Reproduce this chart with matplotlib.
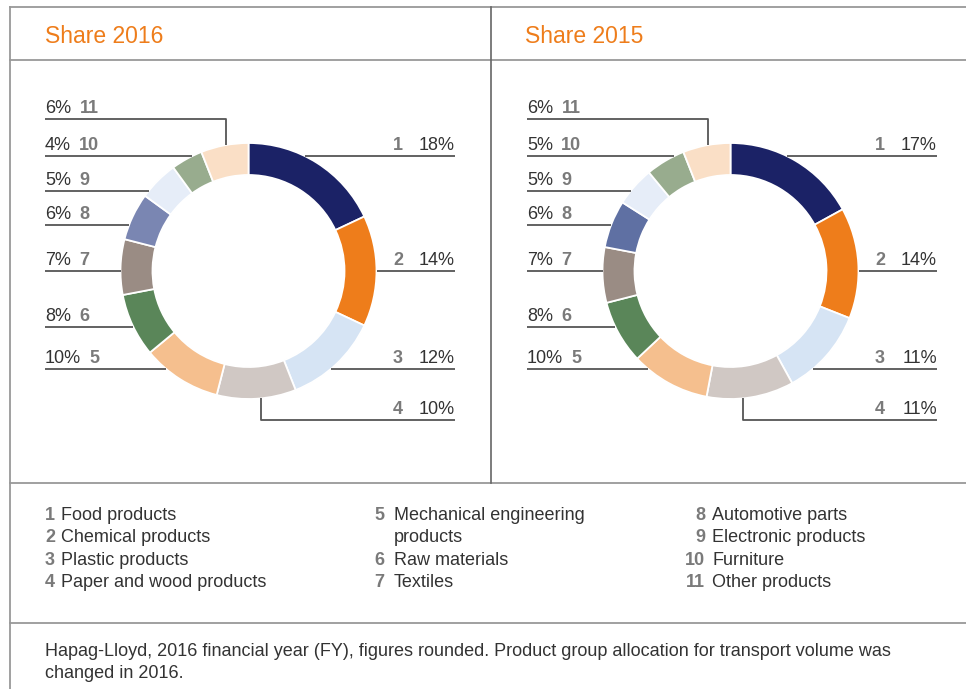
import matplotlib.pyplot as plt
import numpy as np

plt.rcParams['font.family'] = ['Liberation Sans', 'DejaVu Sans']

# data
categories = ["Food products", "Chemical products", "Plastic products",
              "Paper and wood products", "Mechanical engineering\nproducts",
              "Raw materials", "Textiles", "Automotive parts",
              "Electronic products", "Furniture", "Other products"]
share_2016 = [18, 14, 12, 10, 10, 8, 7, 6, 5, 4, 6]
share_2015 = [17, 14, 11, 11, 10, 8, 7, 6, 5, 5, 6]
titles = ["Share 2016", "Share 2015"]
footnote = ("Hapag-Lloyd, 2016 financial year (FY), figures rounded. Product group allocation for transport volume was\n"
            "changed in 2016.")

colors_2016 = ["#1b2266", "#ee7d1b", "#d6e4f4", "#d0c8c4", "#f5bf8e", "#5a8659",
               "#9a8c84", "#7a86b2", "#e6edf8", "#98ac8e", "#fadfc6"]
colors_2015 = ["#1b2266", "#ee7d1b", "#d6e4f4", "#d0c8c4", "#f5bf8e", "#5a8659",
               "#9a8c84", "#5f70a3", "#e6edf8", "#98ac8e", "#fadfc6"]

# layout (pixels)
W, H = 966, 689
R, RING = 128, 32
panels = [dict(cx=248.5, cy=271, left=45, right=455, vals=share_2016, cols=colors_2016, tx=45),
          dict(cx=730.5, cy=271, left=527, right=937, vals=share_2015, cols=colors_2015, tx=525)]
left_rows = {10: 119, 9: 156, 8: 191, 7: 225, 6: 271, 5: 327, 4: 369}   # index -> line y
right_rows = {0: 156, 1: 271, 2: 369, 3: 420}
drop_11 = -23   # vertical leader offsets from centre
drop_4 = 12

TXT = "#333333"
NUM = "#7a7a7a"
LEAD = "#555555"
FS = 13

fig = plt.figure(figsize=(W / 100, H / 100), dpi=100)
ax = fig.add_axes([0, 0, 1, 1])

for p, title in zip(panels, titles):
    cx, cy = p["cx"], p["cy"]
    ax.pie(p["vals"], colors=p["cols"], center=(cx, cy), radius=R,
           startangle=-90, counterclock=True,
           wedgeprops=dict(width=RING, edgecolor="white", linewidth=1.3))
    ax.text(p["tx"], 43, title, color="#ee7d1b", fontsize=16.5, va="baseline", ha="left")

    def ring_x(y, side):
        return cx + side * np.sqrt(max(R ** 2 - (y - cy) ** 2, 0))

    # left side labels
    for i, y in left_rows.items():
        if i == 10:
            xv = cx + drop_11
            yv = cy - np.sqrt(R ** 2 - drop_11 ** 2)
            ax.plot([p["left"], xv, xv], [y, y, yv], color=LEAD, lw=1.3, solid_capstyle="butt")
        else:
            ax.plot([p["left"], ring_x(y, -1)], [y, y], color=LEAD, lw=1.3, solid_capstyle="butt")
        t = ax.text(p["left"], y - 6, f"{p['vals'][i]}%", color=TXT, fontsize=FS,
                    ha="left", va="baseline")
        ax.annotate(str(i + 1), xy=(1, 0), xycoords=t, xytext=(6, 0),
                    textcoords="offset points", ha="left", va="bottom",
                    color=NUM, fontsize=FS, fontweight="bold")

    # right side labels
    for i, y in right_rows.items():
        if i == 3:
            xv = cx + drop_4
            yv = cy + np.sqrt(R ** 2 - drop_4 ** 2)
            ax.plot([xv, xv, p["right"]], [yv, y, y], color=LEAD, lw=1.3, solid_capstyle="butt")
        else:
            ax.plot([ring_x(y, 1), p["right"]], [y, y], color=LEAD, lw=1.3, solid_capstyle="butt")
        ax.text(p["right"], y - 6, f"{p['vals'][i]}%", color=TXT, fontsize=FS,
                ha="right", va="baseline")
        ax.text(p["right"] - 52, y - 6, str(i + 1), color=NUM, fontsize=FS,
                ha="right", va="baseline", fontweight="bold")

# legend below the charts
legend_rows = [520, 542, 565, 587]   # baselines
legend_cols = [(45, "left", 61), (374, "left", 394), (705, "right", 712)]
legend_pos = [(0, 0), (0, 1), (0, 2), (0, 3), (1, 0), (1, 2), (1, 3),
              (2, 0), (2, 1), (2, 2), (2, 3)]
for i, (name, (c, r)) in enumerate(zip(categories, legend_pos)):
    nx, nha, tx = legend_cols[c]
    ax.text(nx, legend_rows[r], str(i + 1), color=NUM, fontsize=FS, fontweight="bold",
            ha=nha, va="baseline")
    for k, line in enumerate(name.split("\n")):
        ax.text(tx, legend_rows[r + k], line, color=TXT, fontsize=FS, ha="left", va="baseline")

for k, line in enumerate(footnote.split("\n")):
    ax.text(45, 656 + 22.5 * k, line, color=TXT, fontsize=FS, ha="left", va="baseline")

# frame
GRID = "#999999"
for y in [7, 60, 483, 623]:
    ax.plot([10, W], [y, y], color=GRID, lw=1.3)
ax.plot([10, 10], [7, H], color=GRID, lw=1.3)
ax.plot([491, 491], [7, 483], color="#666666", lw=1.2)

ax.set_xlim(0, W)
ax.set_ylim(H, 0)
ax.set_aspect("auto")
ax.axis("off")

plt.savefig("out.png", dpi=100)
